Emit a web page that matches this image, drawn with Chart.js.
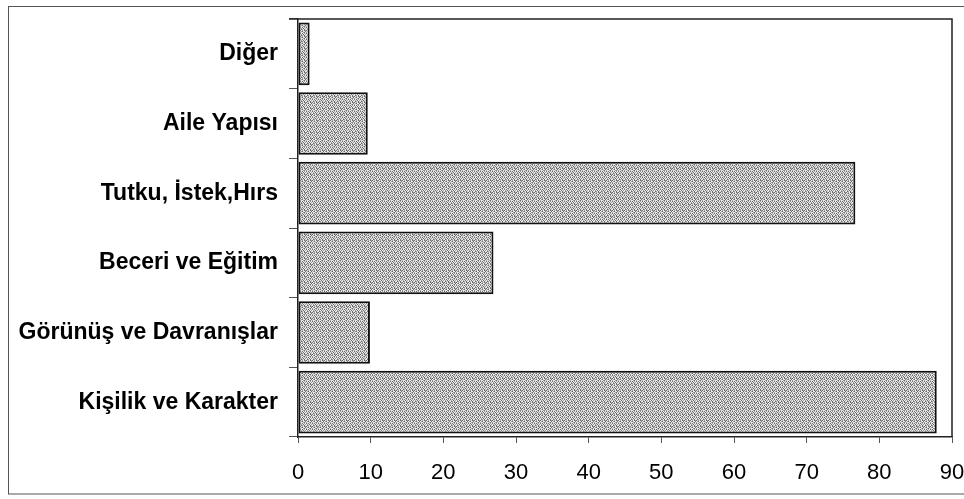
<!DOCTYPE html>
<html>
<head>
<meta charset="utf-8">
<script src="https://cdn.jsdelivr.net/npm/chart.js@4/dist/chart.umd.min.js"></script>
<style>
  html, body { margin: 0; padding: 0; background: #fff; overflow: hidden; }
  #wrap { width: 964px; height: 499px; position: relative; overflow: hidden; }
  canvas { display: block; }
</style>
</head>
<body>
<div id="wrap"><canvas id="c" width="964" height="499"></canvas></div>
<script>
// Categories listed top to bottom
const categories = [
  'Diğer',
  'Aile Yapısı',
  'Tutku, İstek,Hırs',
  'Beceri ve Eğitim',
  'Görünüş ve Davranışlar',
  'Kişilik ve Karakter'
];
const values = [1.6, 9.6, 76.7, 26.9, 9.9, 87.9];
const xTicks = [0, 10, 20, 30, 40, 50, 60, 70, 80, 90];

// Stippled grey fill for the bars
function stipple() {
  const grid = [
    'dwgwdg',
    'wgdwwd',
    'gwwgdw',
    'dwdwgw',
    'wgwdwg',
    'wdgwdw'
  ];
  const shade = { d: '#6a6a6a', g: '#a4a4a4', w: '#e8e8e8' };
  const p = document.createElement('canvas');
  p.width = 6; p.height = 6;
  const g = p.getContext('2d');
  grid.forEach((row, y) => [...row].forEach((c, x) => {
    g.fillStyle = shade[c]; g.fillRect(x, y, 1, 1);
  }));
  return g.createPattern(p, 'repeat');
}

// Outer chart frame plus top/right edges of the plot area
const frame = {
  id: 'frame',
  beforeDraw(chart) {
    const ctx = chart.ctx;
    ctx.save();
    ctx.strokeStyle = '#555';
    ctx.lineWidth = 1;
    ctx.strokeRect(8.5, 6.5, chart.width + 10, 487.5);
    ctx.restore();
  },
  afterDraw(chart) {
    const a = chart.chartArea, ctx = chart.ctx;
    ctx.save();
    ctx.strokeStyle = '#222';
    ctx.lineWidth = 1.5;
    ctx.beginPath();
    ctx.moveTo(a.left - 9, a.top);
    ctx.lineTo(a.right, a.top);
    ctx.lineTo(a.right, a.bottom);
    ctx.stroke();
    ctx.restore();
  }
};

const PLOT_LEFT = 298, PLOT_BOTTOM = 437;

new Chart(document.getElementById('c'), {
  type: 'bar',
  data: {
    labels: categories,
    datasets: [{
      data: values,
      backgroundColor: stipple(),
      borderColor: '#111',
      borderWidth: 2,
      borderSkipped: false,
      barPercentage: 0.9,
      categoryPercentage: 1.0
    }]
  },
  options: {
    indexAxis: 'y',
    responsive: false,
    animation: false,
    devicePixelRatio: 1,
    layout: { padding: { top: 19, right: 3, left: 0, bottom: 0 } },
    plugins: { legend: { display: false }, tooltip: { enabled: false } },
    scales: {
      x: {
        type: 'linear',
        min: 0, max: 90,
        afterBuildTicks(scale) { scale.ticks = xTicks.map(v => ({ value: v })); },
        afterFit(scale) {
          scale.height = 499 - PLOT_BOTTOM;
          scale.paddingRight = 12;
        },
        border: { display: true, color: '#222', width: 1.5 },
        grid: { display: true, drawOnChartArea: false, drawTicks: true, tickLength: 6, color: '#555' },
        ticks: {
          color: '#000',
          padding: 17,
          maxRotation: 0,
          font: { family: 'Liberation Sans, Arial, sans-serif', size: 22 }
        }
      },
      y: {
        type: 'category',
        afterFit(scale) {
          scale.width = PLOT_LEFT;
          scale.paddingTop = 0;
          scale.paddingBottom = 0;
        },
        border: { display: true, color: '#222', width: 1.5 },
        grid: { display: true, offset: true, drawOnChartArea: false, drawTicks: true, tickLength: 9, color: '#555' },
        ticks: {
          color: '#000',
          padding: 11,
          font: { family: 'Liberation Sans, Arial, sans-serif', size: 23, weight: 'bold' }
        }
      }
    }
  },
  plugins: [frame]
});
</script>
</body>
</html>
